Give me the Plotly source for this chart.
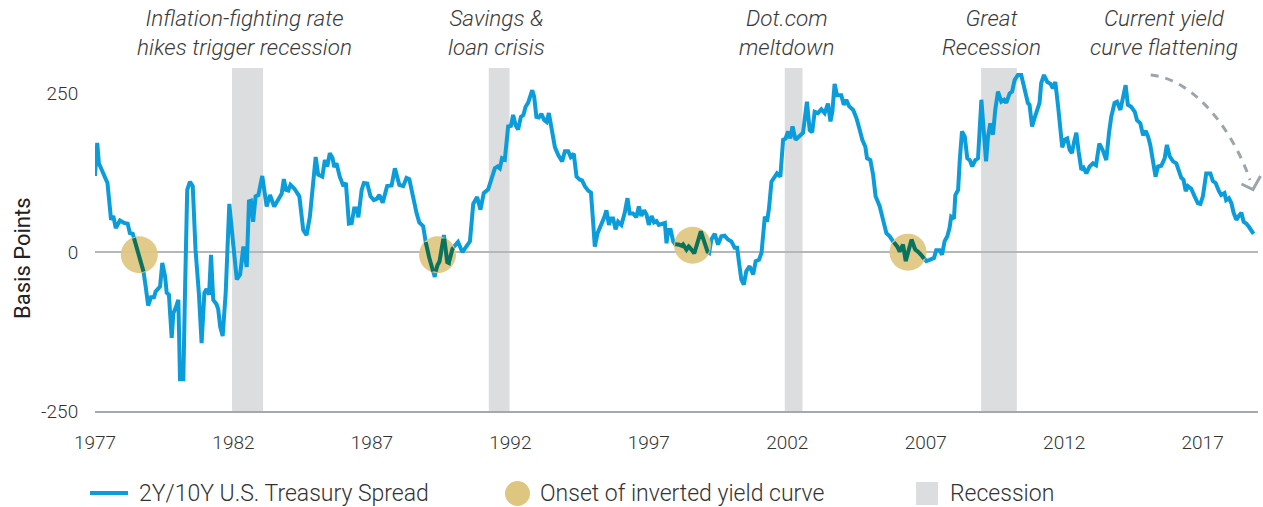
import numpy as np
import plotly.graph_objects as go

# ---------------- data ----------------
years = [
    1977.00, 1977.08, 1977.14, 1977.30, 1977.45, 1977.58, 1977.66, 1977.75, 1977.90, 1978.06,
    1978.18, 1978.26, 1978.36, 1978.50, 1978.62, 1978.74, 1978.83, 1978.92, 1979.02, 1979.13,
    1979.19, 1979.35, 1979.43, 1979.53, 1979.59, 1979.67, 1979.77, 1979.83, 1979.91, 1980.01,
    1980.07, 1980.19, 1980.25, 1980.33, 1980.43, 1980.53, 1980.63, 1980.75, 1980.85, 1980.95,
    1981.03, 1981.12, 1981.19, 1981.27, 1981.39, 1981.45, 1981.52, 1981.61, 1981.72, 1981.85,
    1982.00, 1982.12, 1982.24, 1982.36, 1982.48, 1982.56, 1982.63, 1982.71, 1982.80, 1982.90,
    1983.04, 1983.20, 1983.32, 1983.47, 1983.62, 1983.74, 1983.82, 1983.90, 1983.98, 1984.06,
    1984.20, 1984.38, 1984.52, 1984.64, 1984.76, 1984.86, 1984.97, 1985.06, 1985.21, 1985.30,
    1985.39, 1985.48, 1985.58, 1985.64, 1985.72, 1985.84, 1985.97, 1986.06, 1986.17, 1986.27,
    1986.36, 1986.45, 1986.51, 1986.63, 1986.71, 1986.83, 1986.95, 1987.07, 1987.17, 1987.27,
    1987.39, 1987.55, 1987.71, 1987.83, 1987.91, 1987.99, 1988.13, 1988.25, 1988.35, 1988.49,
    1988.61, 1988.71, 1988.85, 1988.97, 1989.09, 1989.19, 1989.27, 1989.33, 1989.43, 1989.51,
    1989.60, 1989.69, 1989.78, 1989.87, 1989.99, 1990.11, 1990.27, 1990.42, 1990.54, 1990.66,
    1990.80, 1990.92, 1991.04, 1991.20, 1991.36, 1991.44, 1991.54, 1991.62, 1991.70, 1991.80,
    1991.92, 1992.02, 1992.10, 1992.19, 1992.28, 1992.38, 1992.47, 1992.55, 1992.64, 1992.79,
    1992.86, 1992.94, 1993.03, 1993.12, 1993.22, 1993.31, 1993.39, 1993.49, 1993.61, 1993.73,
    1993.87, 1993.97, 1994.09, 1994.18, 1994.29, 1994.39, 1994.51, 1994.59, 1994.69, 1994.81,
    1994.91, 1994.99, 1995.05, 1995.15, 1995.27, 1995.39, 1995.47, 1995.56, 1995.63, 1995.71,
    1995.80, 1995.89, 1996.01, 1996.13, 1996.23, 1996.31, 1996.43, 1996.55, 1996.64, 1996.73,
    1996.83, 1996.92, 1997.00, 1997.10, 1997.19, 1997.28, 1997.36, 1997.46, 1997.58, 1997.64,
    1997.70, 1997.79, 1997.88, 1997.96, 1998.06, 1998.18, 1998.24, 1998.36, 1998.44, 1998.54,
    1998.64, 1998.72, 1998.80, 1998.88, 1998.97, 1999.08, 1999.18, 1999.26, 1999.38, 1999.50,
    1999.62, 1999.74, 1999.86, 1999.98, 2000.10, 2000.19, 2000.26, 2000.34, 2000.43, 2000.52,
    2000.64, 2000.77, 2000.86, 2000.98, 2001.07, 2001.13, 2001.19, 2001.27, 2001.34, 2001.43,
    2001.51, 2001.63, 2001.75, 2001.85, 2001.94, 2002.03, 2002.11, 2002.19, 2002.30, 2002.45,
    2002.57, 2002.71, 2002.81, 2002.90, 2002.99, 2003.11, 2003.23, 2003.35, 2003.47, 2003.56,
    2003.63, 2003.71, 2003.80, 2003.95, 2004.04, 2004.13, 2004.23, 2004.38, 2004.50, 2004.62,
    2004.71, 2004.82, 2004.88, 2005.00, 2005.10, 2005.19, 2005.34, 2005.43, 2005.58, 2005.70,
    2005.82, 2005.94, 2006.06, 2006.18, 2006.28, 2006.38, 2006.49, 2006.57, 2006.66, 2006.78,
    2006.90, 2007.02, 2007.14, 2007.30, 2007.38, 2007.50, 2007.59, 2007.68, 2007.78, 2007.86,
    2007.92, 2008.02, 2008.07, 2008.17, 2008.23, 2008.31, 2008.41, 2008.50, 2008.59, 2008.68,
    2008.79, 2008.89, 2009.01, 2009.09, 2009.18, 2009.25, 2009.33, 2009.43, 2009.51, 2009.61,
    2009.73, 2009.83, 2009.91, 2010.03, 2010.12, 2010.21, 2010.33, 2010.45, 2010.57, 2010.69,
    2010.75, 2010.84, 2010.93, 2011.03, 2011.11, 2011.17, 2011.27, 2011.39, 2011.51, 2011.59,
    2011.68, 2011.78, 2011.87, 2011.93, 2012.02, 2012.11, 2012.20, 2012.28, 2012.35, 2012.44,
    2012.52, 2012.62, 2012.70, 2012.80, 2012.92, 2013.04, 2013.15, 2013.27, 2013.39, 2013.52,
    2013.62, 2013.70, 2013.82, 2013.91, 2014.03, 2014.12, 2014.22, 2014.30, 2014.42, 2014.55,
    2014.63, 2014.75, 2014.85, 2014.94, 2015.03, 2015.11, 2015.21, 2015.30, 2015.39, 2015.51,
    2015.63, 2015.71, 2015.81, 2015.93, 2016.05, 2016.15, 2016.23, 2016.31, 2016.39, 2016.47,
    2016.59, 2016.71, 2016.83, 2016.92, 2017.01, 2017.13, 2017.28, 2017.37, 2017.47, 2017.59,
    2017.67, 2017.79, 2017.85, 2017.95, 2018.04, 2018.12, 2018.22, 2018.31, 2018.40, 2018.48,
    2018.58, 2018.67, 2018.76, 2018.84,
]
spread = [
    120, 172, 140, 124, 109, 51, 57, 38, 50, 46,
    45, 30, 29, 9, -12, -27, -54, -84, -71, -71,
    -62, -54, -17, -38, -64, -67, -135, -96, -88, -75,
    -200, -200, -64, 98, 111, 104, 4, -64, -143, -64,
    -58, -67, -4, -75, -82, -90, -117, -132, -64, 76,
    9, -43, -35, 9, -23, 80, 81, 48, 88, 90,
    120, 72, 90, 72, 83, 92, 115, 98, 97, 106,
    100, 88, 35, 27, 56, 104, 150, 122, 119, 145,
    135, 156, 148, 134, 140, 119, 104, 109, 45, 46,
    69, 69, 55, 98, 109, 108, 88, 82, 84, 90,
    78, 104, 105, 132, 119, 106, 104, 117, 115, 84,
    62, 47, 41, 9, -12, -27, -39, -22, -17, 1,
    27, -15, -17, 4, 9, 16, 0, 9, 17, 76,
    87, 67, 93, 99, 124, 132, 135, 132, 148, 146,
    198, 199, 216, 200, 193, 213, 216, 229, 235, 255,
    245, 213, 212, 218, 208, 205, 219, 190, 165, 153,
    143, 159, 159, 150, 155, 119, 114, 113, 104, 97,
    94, 47, 9, 30, 41, 55, 66, 43, 53, 53,
    36, 48, 43, 62, 85, 61, 61, 55, 72, 57,
    66, 59, 43, 57, 47, 49, 43, 45, 46, 14,
    35, 35, 17, 12, 13, 9, 12, 4, 9, 5,
    -2, 9, 22, 33, 19, 2, -1, 20, 29, 12,
    25, 26, 20, 17, 7, 7, -17, -43, -51, -30,
    -22, -35, -14, -12, -1, 36, 56, 48, 69, 111,
    117, 124, 119, 177, 179, 190, 179, 198, 177, 183,
    188, 237, 192, 189, 221, 219, 225, 219, 234, 206,
    222, 265, 247, 247, 232, 240, 230, 224, 211, 192,
    177, 166, 148, 145, 122, 88, 72, 56, 30, 25,
    17, 12, 1, 12, -14, 4, 20, 7, 2, -1,
    -8, -14, -12, -9, 3, 3, -4, 17, 25, 38,
    56, 53, 90, 98, 145, 190, 182, 148, 145, 135,
    145, 148, 240, 198, 143, 182, 203, 185, 224, 253,
    237, 240, 235, 250, 253, 271, 279, 279, 258, 235,
    232, 198, 211, 227, 235, 266, 279, 268, 265, 258,
    268, 230, 193, 165, 177, 179, 161, 156, 172, 188,
    159, 130, 133, 124, 135, 140, 137, 171, 161, 145,
    188, 213, 235, 237, 224, 240, 263, 232, 229, 221,
    208, 203, 184, 191, 182, 169, 145, 119, 135, 136,
    148, 169, 151, 143, 140, 124, 117, 114, 96, 104,
    100, 88, 77, 76, 88, 124, 124, 112, 109, 96,
    90, 93, 82, 85, 77, 62, 51, 57, 62, 48,
    45, 40, 35, 29,
]

recession_start = [1981.95, 1991.22, 2001.91, 2009.00]
recession_end = [1983.07, 1991.97, 2002.55, 2010.29]

onset_years = [1978.60, 1989.37, 1998.58, 2006.36]
onset_values = [-4, -4, 11, 0]

event_labels = [
    "Inflation-fighting rate<br>hikes trigger recession",
    "Savings &amp;<br>loan crisis",
    "Dot.com<br>meltdown",
    "Great<br>Recession",
    "Current yield<br>curve flattening",
]
event_years = [1982.39, 1991.50, 2001.98, 2009.39, 2015.61]

x_ticks = [1977, 1982, 1987, 1992, 1997, 2002, 2007, 2012, 2017]
y_ticks = [-250, 0, 250]

legend_labels = ["2Y/10Y U.S. Treasury Spread", "Onset of inverted yield curve", "Recession"]

# ---------------- styling / layout constants ----------------
W, H = 1263, 507
ML, MR, MT, MB = 95, 5, 68, 96
PW, PH = W - ML - MR, H - MT - MB
X_RANGE = [1977, 2019]
Y_RANGE = [-250, 290]

BLUE = "#0b9ddb"
GOLD = "#dfc680"
GREEN = "#0a735e"
REC = "#dcdddf"
GREY_TXT = "#3a3a3a"
ARROW = "#9ba5ab"
FONT = "Roboto"
CIRCLE_D = 37


def px(xp):
    return (xp - ML) / PW


def py(yp):
    return (H - MB - yp) / PH


fig = go.Figure()

# main line
fig.add_trace(go.Scatter(x=years, y=spread, mode="lines",
                         line=dict(color=BLUE, width=4), showlegend=False,
                         hoverinfo="skip"))

# onset circles
fig.add_trace(go.Scatter(x=onset_years, y=onset_values, mode="markers",
                         marker=dict(size=CIRCLE_D, color=GOLD, opacity=0.92,
                                     line=dict(width=0)),
                         showlegend=False, hoverinfo="skip"))

# line segments inside circles, drawn darker on top
xs = np.asarray(years, dtype=float)
ys = np.asarray(spread, dtype=float)
fine_x = np.arange(xs[0], xs[-1], 0.004)
fine_y = np.interp(fine_x, xs, ys)
kx = PW / (X_RANGE[1] - X_RANGE[0])
ky = PH / (Y_RANGE[1] - Y_RANGE[0])
mask = np.zeros_like(fine_x, dtype=bool)
for cx, cy in zip(onset_years, onset_values):
    d = np.hypot((fine_x - cx) * kx, (fine_y - cy) * ky)
    mask |= d <= CIRCLE_D / 2 - 1
gy = np.where(mask, fine_y, np.nan)
fig.add_trace(go.Scatter(x=fine_x, y=gy, mode="lines", connectgaps=False,
                         line=dict(color=GREEN, width=4), showlegend=False,
                         hoverinfo="skip"))

shapes = []
for s, e in zip(recession_start, recession_end):
    shapes.append(dict(type="rect", xref="x", yref="paper", x0=s, x1=e, y0=0, y1=1,
                       fillcolor=REC, line=dict(width=0), layer="below"))

# dashed curved arrow (pixel-designed, paper coords)
p0, c1, c2, p3 = (1150.7, 75), (1193, 79), (1232, 128), (1250, 180)
path = "M {},{} C {},{} {},{} {},{}".format(px(p0[0]), py(p0[1]), px(c1[0]), py(c1[1]),
                                            px(c2[0]), py(c2[1]), px(p3[0]), py(p3[1]))
shapes.append(dict(type="path", xref="paper", yref="paper", path=path,
                   line=dict(color=ARROW, width=3, dash="8px,7px")))
head = "M {},{} L {},{} L {},{}".format(px(1241.5), py(184), px(1253), py(189.5), px(1260.5), py(176))
shapes.append(dict(type="path", xref="paper", yref="paper", path=head,
                   line=dict(color=ARROW, width=3)))

# legend (manual)
LEG_Y = 493
shapes.append(dict(type="line", xref="paper", yref="paper", x0=px(90), x1=px(128),
                   y0=py(LEG_Y), y1=py(LEG_Y), line=dict(color=BLUE, width=4)))
shapes.append(dict(type="circle", xref="paper", yref="paper", x0=px(505), x1=px(530),
                   y0=py(481), y1=py(506), fillcolor=GOLD, line=dict(width=0)))
shapes.append(dict(type="rect", xref="paper", yref="paper", x0=px(916), x1=px(938),
                   y0=py(482), y1=py(505), fillcolor=REC, line=dict(width=0)))

annotations = []
for lab, xpos in zip(legend_labels, [137, 538, 948]):
    annotations.append(dict(text=lab, xref="paper", yref="paper", x=px(xpos), y=py(LEG_Y),
                            xanchor="left", yanchor="middle", showarrow=False,
                            font=dict(family=FONT, size=23, color="#333333", weight=300)))

for lab, xv in zip(event_labels, event_years):
    annotations.append(dict(text=lab, xref="x", yref="paper", x=xv, y=py(32.5),
                            xanchor="center", yanchor="middle", align="center",
                            showarrow=False,
                            font=dict(family=FONT, size=22.5, color=GREY_TXT, style="italic",
                                      weight=300)))

annotations.append(dict(text="Basis Points", xref="paper", yref="paper", x=px(22), y=py(258),
                        xanchor="center", yanchor="middle", textangle=-90, showarrow=False,
                        font=dict(family=FONT, size=22, color="#222222")))

fig.update_layout(
    width=W, height=H,
    margin=dict(l=ML, r=MR, t=MT, b=MB),
    paper_bgcolor="white", plot_bgcolor="white",
    shapes=shapes, annotations=annotations,
    showlegend=False,
    xaxis=dict(range=X_RANGE, tickmode="array", tickvals=x_ticks,
               ticktext=[str(t) for t in x_ticks],
               showgrid=False, zeroline=False, showline=True,
               linecolor="#a3a9ae", linewidth=1.5,
               ticks="outside", ticklen=14, tickcolor="rgba(0,0,0,0)",
               tickfont=dict(family=FONT, size=19, color="#333333", weight=300)),
    yaxis=dict(range=Y_RANGE, tickmode="array", tickvals=y_ticks,
               ticktext=[str(t) for t in y_ticks],
               showgrid=False, zeroline=True, zerolinecolor="#b4b8bb", zerolinewidth=1.5,
               showline=False,
               ticks="outside", ticklen=12, tickcolor="rgba(0,0,0,0)",
               tickfont=dict(family=FONT, size=19, color="#333333", weight=300)),
)

fig.write_html("out.html",
               config={"displayModeBar": False, "staticPlot": True},
               post_script="document.body.style.margin='0';document.body.style.overflow='hidden';")
